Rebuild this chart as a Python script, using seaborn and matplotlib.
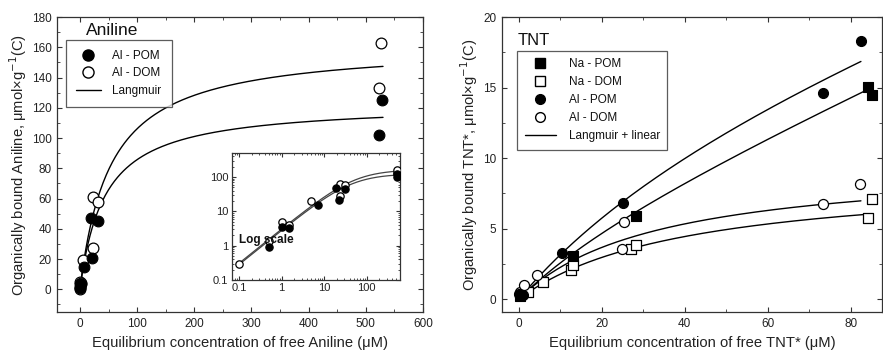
import numpy as np
import pandas as pd
import matplotlib
matplotlib.use("Agg")
import matplotlib.pyplot as plt
import seaborn as sns
from matplotlib.ticker import MultipleLocator, LogLocator, FuncFormatter, NullFormatter
from matplotlib.lines import Line2D

# ---------------- data: Aniline ----------------
ani_pom_x = [0.5, 1.0, 1.5, 7, 19, 22, 31, 523, 529]
ani_pom_y = [0.9, 3.5, 3.3, 15, 47, 21, 45, 102, 125]
ani_dom_x = [0.1, 0.5, 1.0, 1.5, 5, 23, 23, 31, 523, 527]
ani_dom_y = [0.3, 1.4, 5.0, 4.0, 19.5, 27, 61, 58, 133, 163]
# Langmuir fits  q = Qmax*K*C/(1+K*C)
ani_fit_pom = dict(Qmax=123.0, K=0.023)
ani_fit_dom = dict(Qmax=162.0, K=0.019)
ani_fit_cmax = 530

# ---------------- data: TNT ----------------
na_pom_x = [0.3, 13.0, 28.2, 84.0, 85.0]
na_pom_y = [0.25, 3.1, 5.9, 15.05, 14.5]
na_dom_x = [2.2, 5.8, 12.6, 13.0, 27.0, 28.2, 84.0, 85.0]
na_dom_y = [0.52, 1.23, 2.06, 2.4, 3.6, 3.84, 5.73, 7.08]
al_pom_x = [0.2, 1.0, 10.5, 25.2, 73.2, 82.3]
al_pom_y = [0.4, 0.28, 3.25, 6.8, 14.65, 18.27]
al_dom_x = [0.3, 1.4, 4.5, 24.9, 25.4, 73.2, 82.2]
al_dom_y = [0.5, 1.05, 1.75, 3.6, 5.5, 6.72, 8.2]
# Langmuir + linear fits  q = Qmax*K*C/(1+K*C) + Kd*C
tnt_fits = {
    "Al - POM": dict(Qmax=14.76, K=0.017, Kd=0.10, cmax=82.4),
    "Na - POM": dict(Qmax=5.5, K=0.030, Kd=0.13, cmax=84.0),
    "Al - DOM": dict(Qmax=9.8, K=0.030, Kd=0.0, cmax=82.4),
    "Na - DOM": dict(Qmax=8.9, K=0.025, Kd=0.0, cmax=84.0),
}


def langmuir(c, Qmax, K, Kd=0.0, **_):
    c = np.asarray(c, dtype=float)
    return Qmax * K * c / (1 + K * c) + Kd * c


sns.set_style("ticks")
plt.rcParams.update({
    "font.family": ["Liberation Sans", "DejaVu Sans"],
    "xtick.direction": "in", "ytick.direction": "in",
    "xtick.top": True, "ytick.right": True,
    "xtick.major.size": 3.5, "ytick.major.size": 3.5,
    "xtick.minor.size": 2, "ytick.minor.size": 2,
    "xtick.major.pad": 4.5, "ytick.major.pad": 4,
    "xtick.color": "#333", "ytick.color": "#333",
    "xtick.labelcolor": "#222", "ytick.labelcolor": "#222",
    "axes.edgecolor": "#333", "axes.linewidth": 0.9,
    "text.color": "#111", "axes.labelcolor": "#222",
    "xtick.labelsize": 8.5, "ytick.labelsize": 8.5,
})

LABEL_FS = 10.6

fig = plt.figure(figsize=(8.83, 3.51), dpi=100)
ax1 = fig.add_axes([0.0646, 0.111, 0.4145, 0.8405])
ax2 = fig.add_axes([0.5685, 0.111, 0.4305, 0.8405])
axin = fig.add_axes([0.2627, 0.2023, 0.190, 0.362])

filled = dict(color="black", edgecolor="black", linewidth=0.8)
hollow = dict(color="white", edgecolor="black", linewidth=0.9)

# ---------------- Aniline main ----------------
sns.scatterplot(x=ani_pom_x, y=ani_pom_y, ax=ax1, marker="o", s=60, zorder=4, **filled)
sns.scatterplot(x=ani_dom_x, y=ani_dom_y, ax=ax1, marker="o", s=60, zorder=3, **hollow)
c_lin = np.linspace(0, ani_fit_cmax, 300)
for fit in (ani_fit_pom, ani_fit_dom):
    df = pd.DataFrame({"c": c_lin, "q": langmuir(c_lin, **fit)})
    sns.lineplot(data=df, x="c", y="q", ax=ax1, color="black", lw=1.0,
                 estimator=None, sort=False, zorder=2)
ax1.set_xlim(-40, 600)
ax1.set_ylim(-15, 180)
ax1.xaxis.set_major_locator(MultipleLocator(100))
ax1.xaxis.set_minor_locator(MultipleLocator(50))
ax1.yaxis.set_major_locator(MultipleLocator(20))
ax1.yaxis.set_minor_locator(MultipleLocator(10))
ax1.set_xlabel("Equilibrium concentration of free Aniline (\u03bcM)", fontsize=LABEL_FS, labelpad=4)
ax1.set_ylabel("Organically bound Aniline, \u03bcmol\u00d7g$^{-1}$(C)", fontsize=LABEL_FS, labelpad=2)
ax1.text(0.079, 0.953, "Aniline", transform=ax1.transAxes, fontsize=12.5,
         ha="left", va="center")
h1 = [Line2D([], [], marker="o", ls="", mfc="black", mec="black", ms=8),
      Line2D([], [], marker="o", ls="", mfc="white", mec="black", ms=8),
      Line2D([], [], color="black", lw=1.0)]
leg1 = ax1.legend(h1, ["Al - POM", "Al - DOM", "Langmuir"], loc="upper left",
                  bbox_to_anchor=(0.024, 0.922), borderaxespad=0, fontsize=8.5,
                  frameon=True, fancybox=False, edgecolor="#333", handlelength=2.1,
                  borderpad=0.85, labelspacing=0.45, handletextpad=1.0)
leg1.get_frame().set_linewidth(0.9)

# ---------------- Aniline inset ----------------
sns.scatterplot(x=ani_pom_x, y=ani_pom_y, ax=axin, marker="o", s=28, zorder=4, **filled)
sns.scatterplot(x=ani_dom_x, y=ani_dom_y, ax=axin, marker="o", s=28, zorder=3, **hollow)
c_log = np.logspace(-1, np.log10(ani_fit_cmax), 200)
for fit in (ani_fit_pom, ani_fit_dom):
    df = pd.DataFrame({"c": c_log, "q": langmuir(c_log, **fit)})
    sns.lineplot(data=df, x="c", y="q", ax=axin, color="#444", lw=0.9,
                 estimator=None, sort=False, zorder=2)
axin.set_xscale("log")
axin.set_yscale("log")
axin.set_xlim(0.068, 600)
axin.set_ylim(0.1, 500)
fmt = FuncFormatter(lambda v, p: f"{v:g}")
axin.xaxis.set_major_locator(LogLocator(base=10, numticks=10))
axin.yaxis.set_major_locator(LogLocator(base=10, numticks=10))
axin.xaxis.set_major_formatter(fmt)
axin.yaxis.set_major_formatter(fmt)
axin.xaxis.set_minor_formatter(NullFormatter())
axin.yaxis.set_minor_formatter(NullFormatter())
axin.tick_params(labelsize=8, pad=2.5)
axin.tick_params(which="major", length=3)
axin.tick_params(which="minor", length=1.5)
axin.set_xlabel("")
axin.set_ylabel("")
axin.text(0.1, 1.45, "Log scale", fontsize=8.5, fontweight="bold", ha="left", va="center")

# ---------------- TNT ----------------
sns.scatterplot(x=na_pom_x, y=na_pom_y, ax=ax2, marker="s", s=42, zorder=4, **filled)
sns.scatterplot(x=na_dom_x, y=na_dom_y, ax=ax2, marker="s", s=42, zorder=3, **hollow)
sns.scatterplot(x=al_pom_x, y=al_pom_y, ax=ax2, marker="o", s=52, zorder=4, **filled)
sns.scatterplot(x=al_dom_x, y=al_dom_y, ax=ax2, marker="o", s=52, zorder=3, **hollow)
for name, fit in tnt_fits.items():
    cc = np.linspace(0, fit["cmax"], 200)
    df = pd.DataFrame({"c": cc, "q": langmuir(cc, **fit)})
    sns.lineplot(data=df, x="c", y="q", ax=ax2, color="black", lw=1.0,
                 estimator=None, sort=False, zorder=2)
ax2.set_xlim(-4, 87.5)
ax2.set_ylim(-0.9, 20)
ax2.xaxis.set_major_locator(MultipleLocator(20))
ax2.xaxis.set_minor_locator(MultipleLocator(10))
ax2.yaxis.set_major_locator(MultipleLocator(5))
ax2.yaxis.set_minor_locator(MultipleLocator(2.5))
ax2.set_xlabel("Equilibrium concentration of free TNT* (\u03bcM)", fontsize=LABEL_FS, labelpad=4)
ax2.set_ylabel("Organically bound TNT*, \u03bcmol\u00d7g$^{-1}$(C)", fontsize=LABEL_FS, labelpad=2)
ax2.text(0.042, 0.922, "TNT", transform=ax2.transAxes, fontsize=12,
         ha="left", va="center")
h2 = [Line2D([], [], marker="s", ls="", mfc="black", mec="black", ms=6.5),
      Line2D([], [], marker="s", ls="", mfc="white", mec="black", ms=6.5),
      Line2D([], [], marker="o", ls="", mfc="black", mec="black", ms=7),
      Line2D([], [], marker="o", ls="", mfc="white", mec="black", ms=7),
      Line2D([], [], color="black", lw=1.0)]
leg2 = ax2.legend(h2, ["Na - POM", "Na - DOM", "Al - POM", "Al - DOM", "Langmuir + linear"],
                  loc="upper left", bbox_to_anchor=(0.040, 0.886), borderaxespad=0,
                  fontsize=8.5, frameon=True, fancybox=False, edgecolor="#333",
                  handlelength=2.6, borderpad=0.65, labelspacing=0.5, handletextpad=1.1)
leg2.get_frame().set_linewidth(0.9)

fig.savefig("out.png", dpi=100)
